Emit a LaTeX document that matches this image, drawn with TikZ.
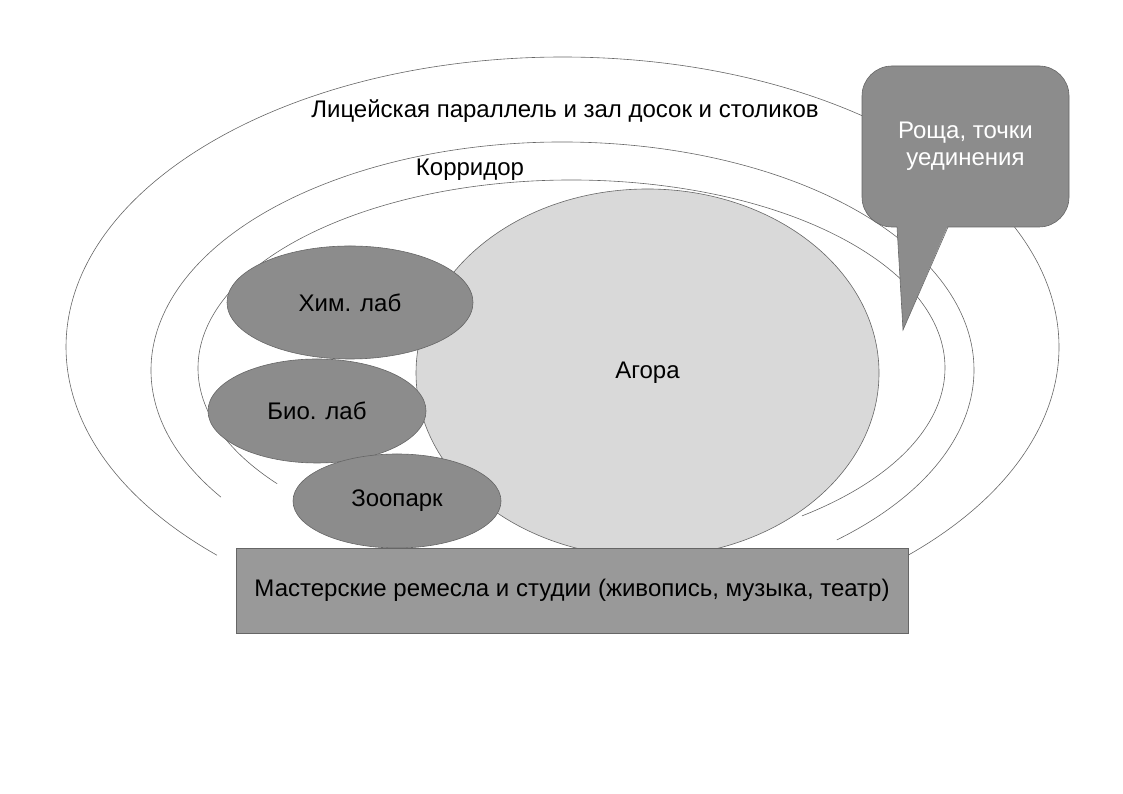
\documentclass[tikz,border=0pt]{standalone}
\usepackage{fontspec}
\setmainfont{Liberation Sans}
\usetikzlibrary{shapes.geometric}
\definecolor{labgray}{HTML}{8C8C8C}
\definecolor{agoragray}{HTML}{D9D9D9}
\definecolor{craftgray}{HTML}{999999}
\definecolor{edgegray}{HTML}{666666}
\begin{document}
\begin{tikzpicture}[x=1pt, y=1pt, line width=0.6pt, font=\fontsize{24}{27}\selectfont,
  ring/.style={draw=edgegray},
  lab/.style={ellipse, draw=edgegray, fill=labgray, inner sep=0pt}]
\useasboundingbox (0,0) rectangle (1123,794);
\draw[ring] (562.5,447) ++(225.9:496.5 and 290) arc[start angle=225.9, end angle=-45.9, x radius=496.5, y radius=290];
\draw[ring] (562.5,424) ++(213.9:411.5 and 228) arc[start angle=213.9, end angle=-48.2, x radius=411.5, y radius=228];
\draw[ring] (571.5,426) ++(218:373.5 and 188) arc[start angle=218, end angle=-51.9, x radius=373.5, y radius=188];
\node (lyceum) at (565,683) {Лицейская параллель и зал досок и столиков};
\node (corridor) at (470,624) {Корридор};
\node[ellipse, draw=edgegray, fill=agoragray, minimum width=463pt, minimum height=368pt] (agora) at (647.5,421) {Агора};
\node[lab, minimum width=246pt, minimum height=113pt] (chem) at (350,491.5) {Хим. лаб};
\node[lab, minimum width=218pt, minimum height=104pt] (bio) at (317,383) {Био. лаб};
\node[lab, minimum width=208pt, minimum height=94pt] (zoo) at (397,293) {Зоопарк};
\node[draw=edgegray, fill=craftgray, minimum width=672pt, minimum height=85pt] (crafts) at (572,203.5) {Мастерские ремесла и студии (живопись, музыка, театр)};
\node[draw=edgegray, fill=labgray, rounded corners=30pt, minimum width=207pt, minimum height=161pt, text=white, align=center] (grove) at (965.5,647.5) {Роща, точки\\уединения};
\coordinate (tailL) at (897,567);
\coordinate (tailR) at (948,567);
\coordinate (tip) at (903,464);
\fill[labgray] (897,568.5) -- (948,568.5) -- (tip) -- cycle;
\draw[edgegray] (tailL) -- (tip) -- (tailR);
\end{tikzpicture}
\end{document}
